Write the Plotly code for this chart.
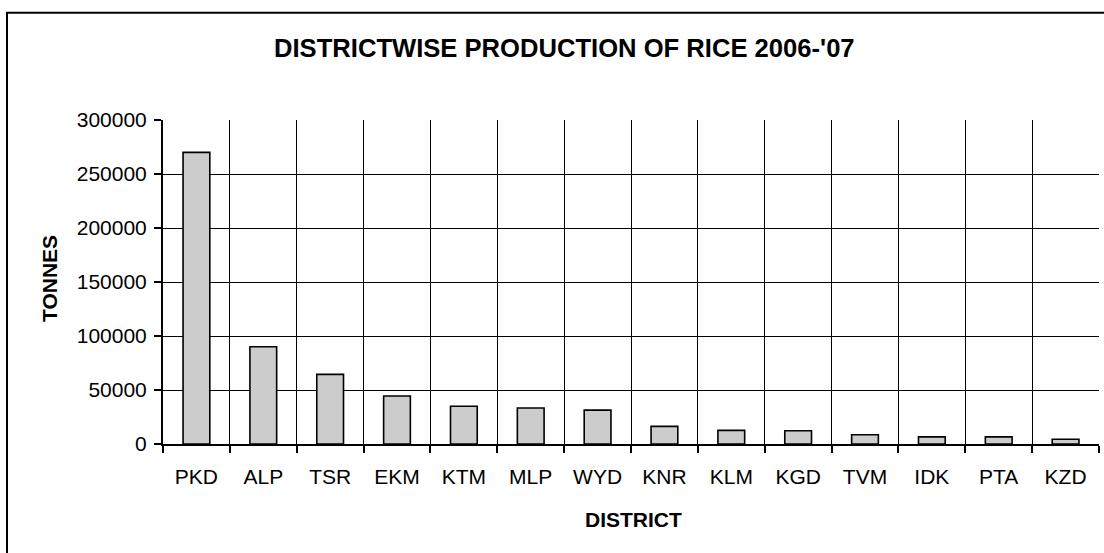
import plotly.graph_objects as go

districts = ["PKD", "ALP", "TSR", "EKM", "KTM", "MLP", "WYD", "KNR", "KLM", "KGD", "TVM", "IDK", "PTA", "KZD"]
production = [270000, 90000, 64500, 44500, 35000, 33300, 31400, 16300, 12600, 12300, 8500, 6600, 6600, 4400]
y_ticks = [0, 50000, 100000, 150000, 200000, 250000, 300000]

FONT = "Liberation Sans, Arial, sans-serif"

W, H = 1104, 553
L, R, T, B = 163, 1099, 120, 444
pw, ph = R - L, B - T

def px(x):
    return (x - L) / pw

def py(y):
    return (B - y) / ph

fig = go.Figure(
    go.Bar(
        x=districts,
        y=production,
        width=0.4,
        marker=dict(color="#cccccc", line=dict(color="black", width=1.6)),
    )
)

fig.update_layout(
    width=W,
    height=H,
    margin=dict(l=L, r=W - R, t=T, b=H - B, pad=0),
    paper_bgcolor="white",
    plot_bgcolor="white",
    showlegend=False,
    font=dict(family=FONT, size=21, color="black"),
    xaxis=dict(
        type="category",
        tickson="boundaries",
        ticks="outside",
        ticklen=7,
        tickwidth=1.5,
        tickcolor="black",
        showgrid=True,
        gridcolor="black",
        gridwidth=1.4,
        showline=True,
        linecolor="black",
        linewidth=2,
        range=[-0.5, 13.5],
        ticklabelstandoff=13,
        tickfont=dict(family=FONT, size=21),
    ),
    yaxis=dict(
        range=[0, 300000],
        tickvals=y_ticks,
        ticktext=[str(v) for v in y_ticks],
        ticks="outside",
        ticklen=7,
        tickwidth=1.5,
        tickcolor="black",
        showgrid=True,
        gridcolor="black",
        gridwidth=1.4,
        showline=True,
        linecolor="black",
        linewidth=2,
        zeroline=False,
        ticklabelstandoff=3,
        tickfont=dict(family=FONT, size=21),
    ),
    shapes=[
        dict(
            type="rect", xref="paper", yref="paper",
            x0=px(7), x1=px(1115), y0=py(565), y1=py(12.7),
            line=dict(color="black", width=2), fillcolor="rgba(0,0,0,0)",
            layer="below",
        )
    ],
    annotations=[
        dict(
            text="<b>DISTRICTWISE PRODUCTION OF RICE 2006-'07</b>",
            xref="paper", yref="paper", x=px(564), y=py(47.5),
            xanchor="center", yanchor="middle", showarrow=False,
            font=dict(family=FONT, size=25.6, color="black"),
        ),
        dict(
            text="<b>TONNES</b>",
            xref="paper", yref="paper", x=px(49), y=py(279),
            xanchor="center", yanchor="middle", showarrow=False, textangle=-90,
            font=dict(family=FONT, size=21, color="black"),
        ),
        dict(
            text="<b>DISTRICT</b>",
            xref="paper", yref="paper", x=px(633.5), y=py(519),
            xanchor="center", yanchor="middle", showarrow=False,
            font=dict(family=FONT, size=21, color="black"),
        ),
    ],
)

fig.write_html(
    "out.html",
    config={"displayModeBar": False},
    post_script="document.body.style.margin='0';document.body.style.overflow='hidden';",
)
